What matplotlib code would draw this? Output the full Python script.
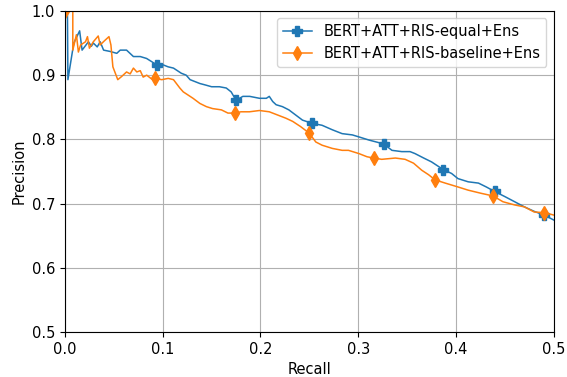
import numpy as np
import matplotlib
matplotlib.use("Agg")
import matplotlib.pyplot as plt

# Curva PR: BERT+ATT+RIS-equal+Ens
recall_equal = [0.0025, 0.003, 0.009, 0.015, 0.0175, 0.024, 0.027, 0.029, 0.033, 0.036,
                0.0395, 0.046, 0.053, 0.0565, 0.063, 0.070, 0.077, 0.0835, 0.094, 0.1005,
                0.1055, 0.111, 0.114, 0.119, 0.124, 0.128, 0.133, 0.138, 0.143, 0.150,
                0.158, 0.165, 0.170, 0.175, 0.182, 0.189, 0.199, 0.206, 0.209, 0.2125,
                0.216, 0.2225, 0.229, 0.236, 0.243, 0.253, 0.263, 0.2735, 0.2835, 0.294,
                0.3005, 0.311, 0.326, 0.3345, 0.3445, 0.353, 0.358, 0.367, 0.375, 0.387,
                0.3955, 0.402, 0.4125, 0.423, 0.431, 0.4395, 0.450, 0.460, 0.470, 0.480,
                0.4905, 0.5007]
precision_equal = [1.0, 0.893, 0.950, 0.969, 0.939, 0.952, 0.945, 0.950, 0.944, 0.952,
                   0.939, 0.937, 0.934, 0.939, 0.939, 0.929, 0.929, 0.926, 0.916, 0.916,
                   0.913, 0.911, 0.908, 0.903, 0.900, 0.893, 0.890, 0.887, 0.885, 0.882,
                   0.882, 0.880, 0.874, 0.861, 0.867, 0.867, 0.864, 0.864, 0.867, 0.859,
                   0.854, 0.851, 0.846, 0.838, 0.830, 0.825, 0.822, 0.815, 0.809, 0.807,
                   0.804, 0.799, 0.793, 0.783, 0.781, 0.781, 0.778, 0.771, 0.765, 0.753,
                   0.747, 0.739, 0.734, 0.732, 0.726, 0.719, 0.711, 0.703, 0.695, 0.688,
                   0.682, 0.674]
marcas_equal = [18, 33, 45, 52, 59, 65, 70]

# Curva PR: BERT+ATT+RIS-baseline+Ens
recall_base = [0.0, 0.008, 0.008, 0.0117, 0.0137, 0.016, 0.021, 0.023, 0.025, 0.029,
               0.034, 0.036, 0.040, 0.045, 0.047, 0.049, 0.054, 0.058, 0.063, 0.0667,
               0.070, 0.0735, 0.077, 0.080, 0.0836, 0.0887, 0.092, 0.099, 0.1056, 0.111,
               0.114, 0.1175, 0.121, 0.126, 0.131, 0.138, 0.1447, 0.151, 0.160, 0.1667,
               0.1735, 0.180, 0.1887, 0.199, 0.209, 0.2175, 0.226, 0.233, 0.241, 0.2497,
               0.2566, 0.263, 0.2735, 0.2836, 0.290, 0.3006, 0.309, 0.316, 0.324, 0.338,
               0.348, 0.3566, 0.365, 0.372, 0.3786, 0.389, 0.402, 0.4125, 0.426, 0.438,
               0.448, 0.460, 0.470, 0.480, 0.4905, 0.5007]
precision_base = [1.0, 1.0, 0.939, 0.963, 0.936, 0.947, 0.952, 0.960, 0.942, 0.952,
                  0.961, 0.947, 0.953, 0.960, 0.947, 0.913, 0.893, 0.898, 0.905, 0.902,
                  0.911, 0.905, 0.907, 0.897, 0.900, 0.894, 0.895, 0.893, 0.895, 0.893,
                  0.887, 0.880, 0.874, 0.869, 0.864, 0.856, 0.851, 0.848, 0.846, 0.841,
                  0.841, 0.843, 0.843, 0.845, 0.843, 0.838, 0.833, 0.828, 0.820, 0.810,
                  0.796, 0.791, 0.786, 0.783, 0.783, 0.778, 0.773, 0.771, 0.769, 0.771,
                  0.769, 0.763, 0.752, 0.745, 0.737, 0.732, 0.726, 0.721, 0.716, 0.712,
                  0.703, 0.698, 0.695, 0.687, 0.686, 0.682]
marcas_base = [0, 26, 40, 49, 57, 64, 69, 74]

plt.rcParams["font.size"] = 10.5

fig = plt.figure(figsize=(5.67, 3.77), dpi=100)
ax = fig.add_axes([0.1146, 0.119, 0.862, 0.852])

ax.plot(recall_equal, precision_equal, color="#1f77b4", lw=1.1, marker="P",
        markersize=7, markevery=marcas_equal, label="BERT+ATT+RIS-equal+Ens")
ax.plot(recall_base, precision_base, color="#ff7f0e", lw=1.1, marker="d",
        markersize=7, markevery=marcas_base, label="BERT+ATT+RIS-baseline+Ens")

ax.set_xlim(0.0, 0.5)
ax.set_ylim(0.5, 1.0)
ax.set_xticks(np.arange(0.0, 0.51, 0.1))
ax.set_yticks(np.arange(0.5, 1.01, 0.1))
ax.grid(True)
ax.set_xlabel("Recall")
ax.set_ylabel("Precision")
ax.legend(loc="upper right")

fig.savefig("out.png", dpi=100)
